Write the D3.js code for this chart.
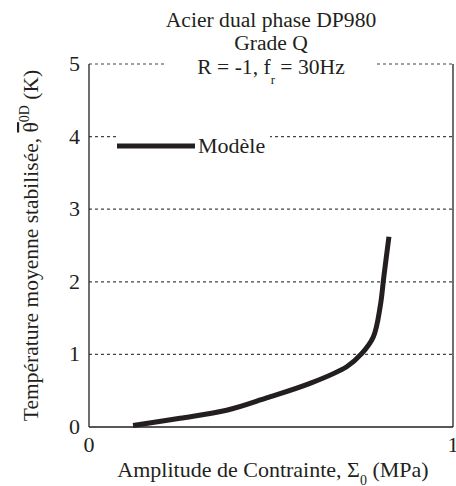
<!DOCTYPE html>
<html>
<head>
<meta charset="utf-8">
<script src="https://cdn.jsdelivr.net/npm/d3@7"></script>
<style>
  html, body { margin: 0; padding: 0; background: #fff; }
  svg { display: block; }
</style>
</head>
<body>
<svg id="chart" width="456" height="486" font-family="'Liberation Serif', 'DejaVu Serif', serif"></svg>
<script>
// Model curve: stabilised mean temperature vs stress amplitude
const stressAmplitude = [0.121, 0.25, 0.378, 0.488, 0.607, 0.708, 0.749, 0.781, 0.80, 0.81, 0.824];
const meanTemperature = [0.02, 0.12, 0.23, 0.40, 0.60, 0.83, 1.01, 1.24, 1.66, 2.07, 2.62];
const yTicks = [0, 1, 2, 3, 4, 5];
const xTicks = [0, 1];
const gridLevels = [1, 2, 3, 4, 5];
const seriesName = "Modèle";

const svg = d3.select("#chart");
const ink = "#231f20";

const x = d3.scaleLinear().domain([0, 1]).range([89, 453]);
const y = d3.scaleLinear().domain([0, 5]).range([427, 64]);

// dashed horizontal gridlines
svg.append("g").selectAll("line").data(gridLevels).join("line")
  .attr("x1", x(0)).attr("x2", x(1))
  .attr("y1", d => y(d)).attr("y2", d => y(d))
  .attr("stroke", "#444").attr("stroke-width", 1.2)
  .attr("stroke-dasharray", "3,3");

// frame: left, right, bottom solid
const frame = svg.append("g").attr("stroke", ink).attr("stroke-width", 1.3);
frame.append("line").attr("x1", x(0)).attr("x2", x(0)).attr("y1", y(0)).attr("y2", y(5));
frame.append("line").attr("x1", x(1)).attr("x2", x(1)).attr("y1", y(0)).attr("y2", y(5));
frame.append("line").attr("x1", x(0)).attr("x2", x(1)).attr("y1", y(0)).attr("y2", y(0));

// white knock-outs behind the third title line and the legend
svg.append("rect").attr("x", 165).attr("y", y(5) - 4).attr("width", 211).attr("height", 8).attr("fill", "#fff");
svg.append("rect").attr("x", 118).attr("y", y(4) - 4).attr("width", 152).attr("height", 22).attr("fill", "#fff");

const txt = sel => sel.attr("fill", ink);

// y tick labels
svg.append("g").selectAll("text").data(yTicks).join("text")
  .attr("x", 80).attr("y", d => y(d) + 7)
  .attr("text-anchor", "end").attr("font-size", 22).call(txt)
  .text(d => d);

// x tick labels
svg.append("g").selectAll("text").data(xTicks).join("text")
  .attr("x", d => x(d)).attr("y", 452)
  .attr("text-anchor", "middle").attr("font-size", 22).call(txt)
  .text(d => d);

// curve
const line = d3.line().x(d => x(d[0])).y(d => y(d[1])).curve(d3.curveCatmullRom.alpha(0.5));
svg.append("path")
  .datum(stressAmplitude.map((v, i) => [v, meanTemperature[i]]))
  .attr("d", line)
  .attr("fill", "none").attr("stroke", ink).attr("stroke-width", 5)
  .attr("stroke-linejoin", "round");

// legend
svg.append("line").attr("x1", 117).attr("x2", 195).attr("y1", 146).attr("y2", 146)
  .attr("stroke", ink).attr("stroke-width", 5);
svg.append("text").attr("x", 198).attr("y", 153).attr("font-size", 22).call(txt).text(seriesName);

// title block
const cx = (x(0) + x(1)) / 2;
svg.append("text").attr("x", cx).attr("y", 27).attr("text-anchor", "middle").attr("font-size", 21.6).call(txt)
  .text("Acier dual phase DP980");
svg.append("text").attr("x", cx).attr("y", 50).attr("text-anchor", "middle").attr("font-size", 21.6).call(txt)
  .text("Grade Q");
const t3 = svg.append("text").attr("x", cx).attr("y", 74).attr("text-anchor", "middle").attr("font-size", 21.6).call(txt);
t3.append("tspan").text("R = -1, f");
t3.append("tspan").attr("font-size", 13).attr("dy", 10).text("r");
t3.append("tspan").attr("dy", -10).text(" = 30Hz");

// x axis title
const xt = svg.append("text").attr("x", cx + 2).attr("y", 477).attr("text-anchor", "middle").attr("font-size", 22).call(txt);
xt.append("tspan").text("Amplitude de Contrainte, Σ");
xt.append("tspan").attr("font-size", 14).attr("dy", 8).text("0");
xt.append("tspan").attr("dy", -8).text(" (MPa)");

// y axis title
const yt = svg.append("text")
  .attr("transform", `translate(38, ${(y(0) + y(5)) / 2}) rotate(-90)`)
  .attr("text-anchor", "middle").attr("font-size", 21.5).call(txt);
yt.append("tspan").text("Température moyenne stabilisée, ");
yt.append("tspan").style("text-decoration", "overline").text("θ");
yt.append("tspan").attr("font-size", 14).attr("dy", -9).text("0D");
yt.append("tspan").attr("dy", 9).text(" (K)");
</script>
</body>
</html>
